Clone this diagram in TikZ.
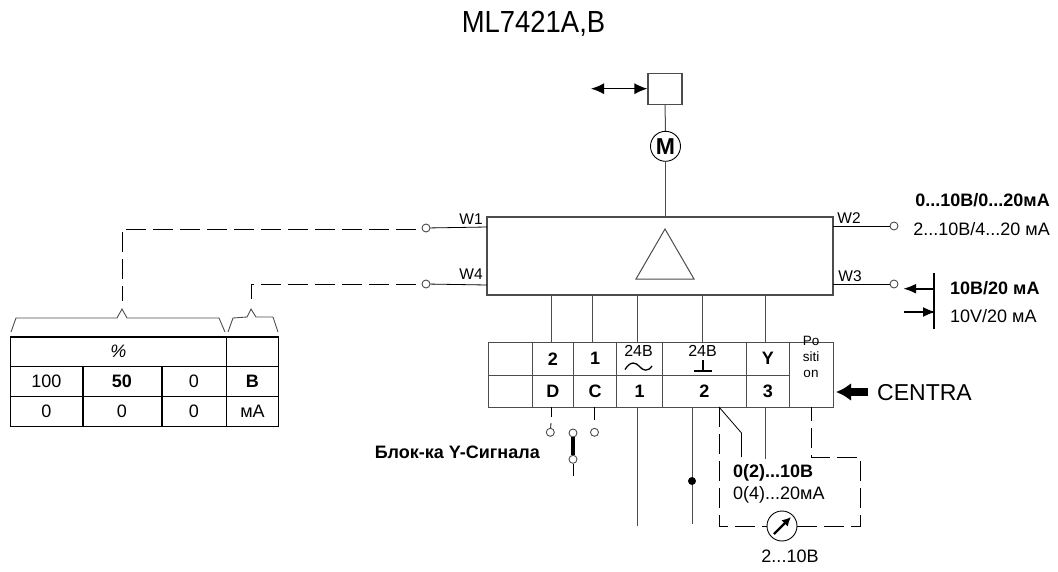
\documentclass[tikz,border=0pt]{standalone}
\usepackage{fontspec}
\setmainfont{Liberation Sans}
\newfontfamily\titlefont[FakeStretch=0.9]{Liberation Sans}
\usetikzlibrary{arrows.meta}
\newcommand{\fs}[1]{\fontsize{#1}{#1}\selectfont}
\definecolor{ln}{gray}{0.3}
\tikzset{
  wire/.style={draw=ln,line width=1pt},
  thin wire/.style={draw=black,line width=0.8pt},
  dash wire/.style={draw=black,line width=0.9pt,dash pattern=on 20pt off 7pt},
  cell/.style={draw=ln,line width=1.1pt,rectangle,inner sep=0pt,font=\fs{18}\bfseries,anchor=north west},
  tcell/.style={draw=black,line width=0.9pt,rectangle,inner sep=0pt,font=\fs{18},anchor=north west},
  term/.style={circle,draw=ln,line width=0.9pt,fill=white,inner sep=0pt,minimum size=8pt},
  lbl/.style={inner sep=0pt,font=\fs{18}},
  bold lbl/.style={inner sep=0pt,font=\fs{18}\bfseries},
  small lbl/.style={inner sep=0pt,font=\fs{15.5}},
}
\begin{document}
\begin{tikzpicture}[x=1pt,y=-1pt]
\useasboundingbox (0,0) rectangle (1058,571);
% title
\node[inner sep=0pt,font=\titlefont\fs{30.5}] (title) at (533.5,23.5) {ML7421A,B};
% actuator
\node[draw=ln,line width=1.1pt,minimum width=34pt,minimum height=31pt,inner sep=0pt] (sq) at (665,88.7) {};
\node[circle,draw=black,line width=0.9pt,minimum size=30pt,inner sep=0pt,font=\fs{23}\bfseries] (motor) at (665.5,146.3) {M};
\node[draw=ln,line width=1.1pt,minimum width=346pt,minimum height=78pt,inner sep=0pt] (main) at (660,256) {};
\draw[wire] (sq) -- (motor);
\draw[wire] (motor) -- (motor|-main.north);
\coordinate (armL) at (591,88.7);
\draw[draw=black,line width=1.3pt,{Latex[length=13pt,width=11pt]}-{Latex[length=13pt,width=11pt]}] (armL) -- (sq.west);
% triangle
\coordinate (t1) at (665,229);
\coordinate (t2) at (636,279);
\coordinate (t3) at (694,279);
\draw[draw=ln,line width=1pt] (t1) -- (t2) -- (t3) -- cycle;
% W terminals
\node[term] (w1) at (426,228) {};
\node[term] (w4) at (426,284) {};
\node[term] (w2) at (894,226) {};
\node[term] (w3) at (894,284) {};
\coordinate (w1a) at (487,227);
\coordinate (w4a) at (487,285);
\coordinate (w2a) at (833,226);
\coordinate (w3a) at (833,284);
\draw[thin wire] (w1a) -- (w1);
\draw[thin wire] (w4a) -- (w4);
\draw[thin wire] (w2a) -- (w2);
\draw[thin wire] (w3a) -- (w3);
\node[small lbl] (lw1) at (471,219) {W1};
\node[small lbl] (lw4) at (471,274) {W4};
\node[small lbl] (lw2) at (849,218) {W2};
\node[small lbl] (lw3) at (850,276) {W3};
\node[bold lbl,anchor=east] (r1) at (1050,200) {0...10В/0...20мА};
\node[lbl,anchor=east] (r2) at (1050,229) {2...10В/4...20 мА};
\node[bold lbl,anchor=west] (r3) at (950,288) {10В/20 мА};
\node[lbl,anchor=west] (r4) at (950,316) {10V/20 мА};
\coordinate (b1) at (934,273);
\coordinate (b2) at (934,329);
\draw[draw=black,line width=1.6pt] (b1) -- (b2);
\coordinate (a1) at (934,288.7);
\coordinate (a2) at (903,288.7);
\coordinate (a3) at (904,312);
\coordinate (a4) at (936,312);
\draw[draw=black,line width=2.4pt,-{Latex[length=13pt,width=10pt]}] (a1) -- (a2);
\draw[draw=black,line width=2.4pt,-{Latex[length=13pt,width=10pt]}] (a3) -- (a4);
% terminal block
\node[cell,minimum width=44.2pt,minimum height=33pt] (c1) at (487.5,341.7) {};
\node[cell,minimum width=41.3pt,minimum height=33pt] (c2) at (531.7,341.7) {2};
\node[cell,minimum width=43pt,minimum height=33pt] (c3) at (573,341.7) {1};
\node[cell,minimum width=46pt,minimum height=33pt] (c4) at (616,341.7) {};
\node[cell,minimum width=83.7pt,minimum height=33pt] (c5) at (662,341.7) {};
\node[cell,minimum width=43.3pt,minimum height=33pt] (c6) at (745.7,341.7) {Y};
\node[cell,minimum width=44pt,minimum height=65.3pt] (c7) at (789,341.7) {};
\node[cell,minimum width=44.2pt,minimum height=32.3pt] (d1) at (487.5,374.7) {};
\node[cell,minimum width=41.3pt,minimum height=32.3pt] (d2) at (531.7,374.7) {D};
\node[cell,minimum width=43pt,minimum height=32.3pt] (d3) at (573,374.7) {C};
\node[cell,minimum width=46pt,minimum height=32.3pt] (d4) at (616,374.7) {1};
\node[cell,minimum width=83.7pt,minimum height=32.3pt] (d5) at (662,374.7) {2};
\node[cell,minimum width=43.3pt,minimum height=32.3pt] (d6) at (745.7,374.7) {3};
\node[inner sep=0pt,font=\fs{16}] (v1) at (638.5,351) {24В};
\node[inner sep=0pt,font=\fs{16}] (v2) at (702.5,351) {24В};
\node[inner sep=0pt,font=\fs{13.5},align=center] (pos) at (811,357) {Po\\[2.5pt]siti\\[2.5pt]on};
% tilde and ground
\draw[draw=black,line width=1.3pt] (625,369.5) .. controls (631,360) and (636,363) .. (639,366) .. controls (643,371) and (648,372) .. (652,366);
\draw[draw=black,line width=1.3pt] (703,360) -- (703,371);
\draw[draw=black,line width=2.4pt] (694,371) -- (712,371);
% wires to main box
\foreach \n/\xx in {a/551,b/592.7,c/637,d/702,e/765}{
  \coordinate (top\n) at (\xx,295);
  \coordinate (bot\n) at (\xx,341.7);
  \draw[wire] (top\n) -- (bot\n);
}
% CENTRA
\coordinate (ce1) at (868,392);
\coordinate (ce2) at (836,392);
\draw[draw=black,line width=8pt,-{Latex[length=15pt,width=18pt]}] (ce1) -- (ce2);
\node[inner sep=0pt,anchor=west,font=\fs{23}] (centra) at (877,392.5) {CENTRA};
% jumper
\node[term] (jd) at (550.3,432.3) {};
\node[term] (jm) at (573,433) {};
\node[term] (jc) at (594.5,432.3) {};
\node[term] (jb) at (573,459.3) {};
\coordinate (dtop) at (551,407);
\coordinate (dmid) at (551,417);
\coordinate (dlow) at (551,423);
\coordinate (ctop) at (594.5,407);
\coordinate (cmid) at (594.5,420);
\coordinate (jend) at (573,476);
\draw[thin wire] (dtop) -- (dmid);
\draw[thin wire] (dlow) -- (jd);
\draw[thin wire] (ctop) -- (cmid);
\draw[draw=black,line width=3.2pt] (jm) -- (jb);
\draw[thin wire] (jb) -- (jend);
\node[inner sep=0pt,font=\fs{18}\bfseries,anchor=east] (blk) at (540,452.5) {Блок-ка Y-Сигнала};
% bottom wires
\coordinate (p1a) at (637,407); \coordinate (p1b) at (637,526);
\coordinate (p2a) at (692,407); \coordinate (p2b) at (692,524);
\draw[wire] (p1a) -- (p1b);
\draw[wire] (p2a) -- (p2b);
\node[circle,fill=black,inner sep=0pt,minimum size=8pt] (dot) at (692,481) {};
\coordinate (y3a) at (765,407); \coordinate (y3b) at (765,459);
\draw[wire] (y3a) -- (y3b);
\coordinate (s1) at (719,407); \coordinate (s2) at (741.5,433); \coordinate (s3) at (741.5,457);
\draw[thin wire] (s1) -- (s2) -- (s3);
% gauge
\node[circle,draw=black,line width=0.9pt,minimum size=30pt,inner sep=0pt] (gauge) at (782,526) {};
\draw[draw=black,line width=2.4pt,-{Latex[length=9pt,width=9pt]}] (774,534) -- (791,517);
\coordinate (g1) at (719,526);
\coordinate (g2) at (860,526);
\coordinate (g3) at (860,457);
\coordinate (g4) at (811.5,457);
\coordinate (g5) at (811.5,407);
\draw[dash wire] (s1) -- (g1) -- (gauge.west);
\draw[dash wire] (gauge.east) -- (g2) -- (g3) -- (g4) -- (g5);
\node[bold lbl,anchor=west] (q1) at (733,473) {0(2)...10В};
\node[lbl,anchor=west] (q2) at (733,495) {0(4)...20мА};
\node[lbl] (q3) at (790,556) {2...10В};
% table
\node[tcell,minimum width=216pt,minimum height=29.3pt,font=\fs{18}\itshape] (h1) at (10,336.7) {\%};
\node[tcell,minimum width=52pt,minimum height=29.3pt] (h2) at (226,336.7) {};
\node[tcell,minimum width=72pt,minimum height=30.3pt] (m1) at (10,366) {100};
\node[tcell,minimum width=79pt,minimum height=30.3pt,font=\fs{18}\bfseries] (m2) at (82,366) {50};
\node[tcell,minimum width=65pt,minimum height=30.3pt] (m3) at (161,366) {0};
\node[tcell,minimum width=52pt,minimum height=30.3pt,font=\fs{18}\bfseries] (m4) at (226,366) {В};
\node[tcell,minimum width=72pt,minimum height=30pt] (n1) at (10,396) {0};
\node[tcell,minimum width=79pt,minimum height=30pt] (n2) at (82,396) {0};
\node[tcell,minimum width=65pt,minimum height=30pt] (n3) at (161,396) {0};
\node[tcell,minimum width=52pt,minimum height=30pt] (n4) at (226,396) {мА};
\draw[draw=black,line width=2pt] (h1.north west) -- (h2.north east);
\draw[draw=black,line width=1.8pt] (m1.north east) -- (n1.south east);
\draw[draw=black,line width=1.4pt] (m2.north east) -- (n2.south east);
% braces
\coordinate (bra) at (122,309);
\coordinate (brb) at (251,309);
\draw[draw=ln,line width=0.9pt] (11,332) -- (16,318) -- (117,318) -- (bra) -- (127,318) -- (219,318) -- (225,332);
\draw[draw=ln,line width=0.9pt] (228,332) -- (233,318) -- (247,317) -- (brb) -- (256,317) -- (273,317) -- (278,332);
% dashed links
\coordinate (da0) at (416,229); \coordinate (da1) at (122,229); \coordinate (da2) at (122,301);
\coordinate (db0) at (416,284); \coordinate (db1) at (251,284); \coordinate (db2) at (251,299);
\draw[dash wire] (da0) -- (da1) -- (da2);
\draw[dash wire] (db0) -- (db1) -- (db2);
\end{tikzpicture}
\end{document}
